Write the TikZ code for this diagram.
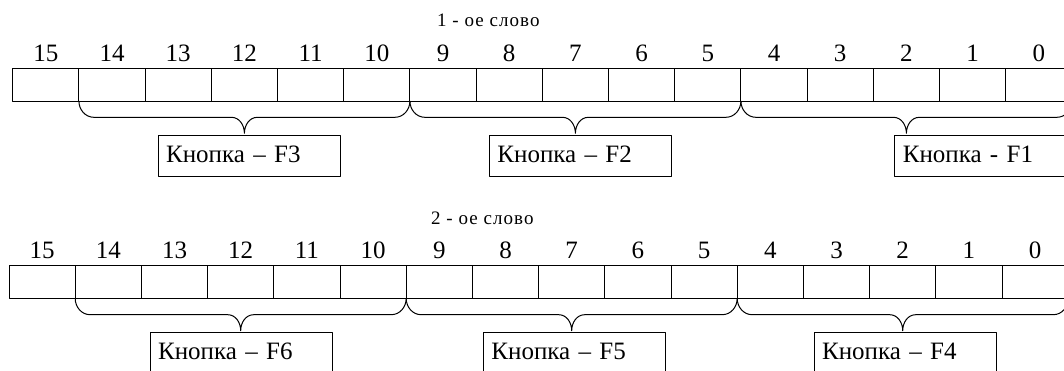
\documentclass[tikz,border=0pt]{standalone}
\usepackage{fontspec}
\setmainfont{Liberation Serif}
\newfontfamily\wtitlefont[LetterSpace=5.5]{Liberation Serif}
\usetikzlibrary{calc}
\tikzset{
  ln/.style={line width=1pt, line join=round},
  cell/.style={draw, ln, minimum width=66.2pt, minimum height=32.7pt, inner sep=0pt, outer sep=0pt, anchor=north west},
  bitnum/.style={font=\fontsize{25}{28}\selectfont, anchor=base, inner sep=0pt},
  wtitle/.style={font=\wtitlefont\fontsize{19}{22}\selectfont, anchor=base west, inner sep=0pt},
  keybox/.style={draw, ln, anchor=north west, minimum width=182.3pt, minimum height=40.3pt,
    text width=166pt, align=left, inner xsep=8pt, inner ysep=0pt, outer sep=0pt,
    text height=18pt, text depth=5.1pt, font=\fontsize{25}{28}\selectfont},
}
\newcommand{\wbrace}[3]{%
  \draw[ln] let \p1=(#1), \p2=(#2), \p3=($(\p1)!0.5!(\p2)$) in
    (\p1) to[out=-90,in=180] ($(\p1)+(15,16.3)$) -- ($(\p3)+(-13,16.3)$)
    to[out=0,in=90] ($(\p3)+(0,32.3)$) coordinate (#3)
    to[out=90,in=180] ($(\p3)+(13,16.3)$) -- ($(\p2)+(-15,16.3)$)
    to[out=0,in=-90] (\p2);}
\begin{document}
\begin{tikzpicture}[x=1pt,y=-1pt]
\useasboundingbox (0,0) rectangle (1064,370);
\clip (0,0) rectangle (1064,370);
% word 1
\node[wtitle] (t1) at (437,26.7) {1 - ое слово};
\foreach \b in {0,...,15}{
  \pgfmathsetmacro\xl{12.7+(15-\b)*66.2}
  \node[cell] (a\b) at (\xl,68.3) {};
  \node[bitnum] (na\b) at ([yshift=7.3pt]a\b.north) {\b};
}
\wbrace{a14.south west}{a10.south east}{tipA}
\wbrace{a9.south west}{a5.south east}{tipB}
\wbrace{a4.south west}{a0.south east}{tipC}
\node[keybox] (f3) at (158,135.7) {Кнопка – F3};
\node[keybox] (f2) at (489.3,135.7) {Кнопка – F2};
\node[keybox] (f1) at (894.7,135.7) {Кнопка - F1};
% word 2
\node[wtitle] (t2) at (431,224.3) {2 - ое слово};
\foreach \b in {0,...,15}{
  \pgfmathsetmacro\xl{9+(15-\b)*66.2}
  \node[cell] (b\b) at (\xl,265.7) {};
  \node[bitnum] (nb\b) at ([yshift=7.3pt]b\b.north) {\b};
}
\wbrace{b14.south west}{b10.south east}{tipD}
\wbrace{b9.south west}{b5.south east}{tipE}
\wbrace{b4.south west}{b0.south east}{tipF}
\node[keybox] (f6) at (150,332.7) {Кнопка – F6};
\node[keybox] (f5) at (483.3,332.7) {Кнопка – F5};
\node[keybox] (f4) at (814,332.7) {Кнопка – F4};
\end{tikzpicture}
\end{document}
